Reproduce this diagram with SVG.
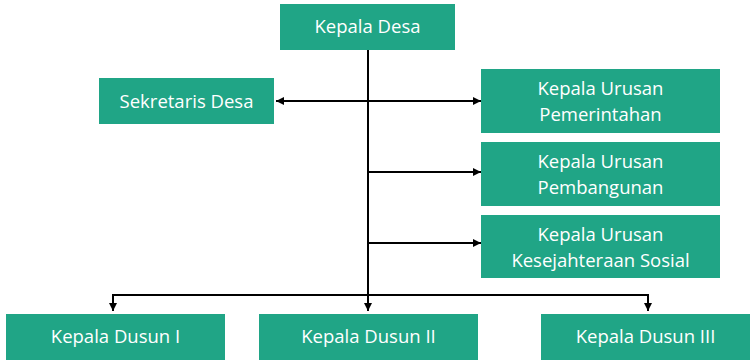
<svg xmlns="http://www.w3.org/2000/svg" width="750" height="360" viewBox="0 0 750 360">
<style>
.box{fill:#20a586}
.t{font-family:"Open Sans","Liberation Sans",sans-serif;font-size:18.5px;fill:#ffffff;text-anchor:middle}
.ln{stroke:#000;stroke-width:2;fill:none}
</style>
<defs>
<marker id="ah" viewBox="0 0 10 10" refX="10" refY="5" markerWidth="4" markerHeight="4" orient="auto-start-reverse" markerUnits="strokeWidth">
<path d="M0,0 L10,5 L0,10 z" fill="#000"/>
</marker>
</defs>
<g id="connectors">
<line class="ln" x1="368" y1="50" x2="368" y2="311" marker-end="url(#ah)"/>
<line class="ln" x1="276" y1="101" x2="481" y2="101" marker-start="url(#ah)" marker-end="url(#ah)"/>
<line class="ln" x1="368" y1="172" x2="481" y2="172" marker-end="url(#ah)"/>
<line class="ln" x1="368" y1="243" x2="481" y2="243" marker-end="url(#ah)"/>
<path class="ln" d="M113,311 V295 H648 V311" marker-start="url(#ah)" marker-end="url(#ah)"/>
</g>
<g id="kepala-desa"><rect class="box" x="280" y="4" width="175" height="46"/><text class="t" x="367.5" y="33">Kepala Desa</text></g>
<g id="sekretaris-desa"><rect class="box" x="99" y="78" width="175" height="46"/><text class="t" x="186.5" y="108">Sekretaris Desa</text></g>
<g id="kaur-pemerintahan"><rect class="box" x="481" y="69" width="239" height="64"/><text class="t" x="600.5" y="95">Kepala Urusan</text><text class="t" x="600.5" y="121">Pemerintahan</text></g>
<g id="kaur-pembangunan"><rect class="box" x="481" y="142" width="239" height="64"/><text class="t" x="600.5" y="168">Kepala Urusan</text><text class="t" x="600.5" y="194">Pembangunan</text></g>
<g id="kaur-kesejahteraan"><rect class="box" x="481" y="215" width="239" height="63"/><text class="t" x="600.5" y="241">Kepala Urusan</text><text class="t" x="600.5" y="267">Kesejahteraan Sosial</text></g>
<g id="dusun-1"><rect class="box" x="6" y="314" width="219" height="46"/><text class="t" x="115.5" y="343">Kepala Dusun I</text></g>
<g id="dusun-2"><rect class="box" x="259" y="314" width="219" height="46"/><text class="t" x="368.5" y="343">Kepala Dusun II</text></g>
<g id="dusun-3"><rect class="box" x="541" y="314" width="209" height="46"/><text class="t" x="645.5" y="343">Kepala Dusun III</text></g>
</svg>
